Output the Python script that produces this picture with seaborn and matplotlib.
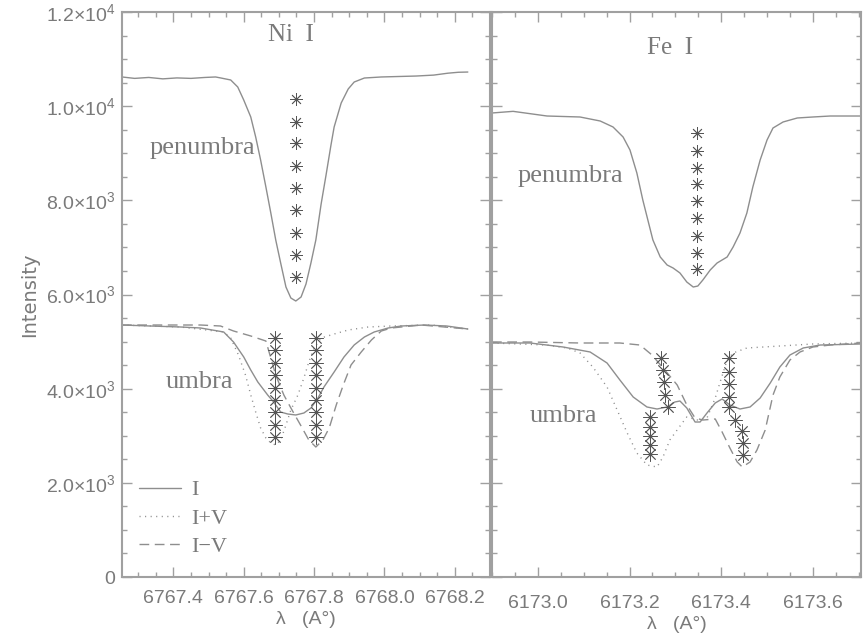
import numpy as np
import pandas as pd
import matplotlib
matplotlib.use("Agg")
import matplotlib.pyplot as plt
from matplotlib.ticker import FixedLocator, MultipleLocator
import seaborn as sns

# ---------------- data ----------------
# Ni I 6767.8  -- penumbra intensity profile
ni_pen_lam = [6767.254, 6767.290, 6767.330, 6767.370, 6767.410, 6767.450, 6767.490, 6767.520,
              6767.534, 6767.563, 6767.583, 6767.600, 6767.620, 6767.634, 6767.648, 6767.663,
              6767.677, 6767.691, 6767.705, 6767.720, 6767.734, 6767.748, 6767.763, 6767.777,
              6767.791, 6767.805, 6767.820, 6767.834, 6767.848, 6767.857, 6767.877, 6767.897,
              6767.914, 6767.943, 6767.991, 6768.040, 6768.090, 6768.140, 6768.180, 6768.210,
              6768.237]
ni_pen_I = [10620, 10590, 10610, 10580, 10600, 10590, 10610, 10620,
            10600, 10556, 10407, 10131, 9770, 9345, 8857, 8283,
            7731, 7158, 6669, 6159, 5925, 5862, 5947, 6223,
            6669, 7158, 7922, 8538, 9175, 9558, 10067, 10365,
            10513, 10598, 10620, 10630, 10640, 10660, 10700, 10720,
            10725]
ni_pen_bis_lam = [6767.748] * 9
ni_pen_bis_I = [10152, 9664, 9218, 8729, 8262, 7795, 7306, 6839, 6372]

# Ni I -- umbra: I, I+V, I-V
ni_umb_lam = [6767.254, 6767.334, 6767.420, 6767.477, 6767.543, 6767.571, 6767.600, 6767.620,
              6767.640, 6767.668, 6767.685, 6767.705, 6767.725, 6767.748, 6767.771, 6767.791,
              6767.811, 6767.828, 6767.857, 6767.885, 6767.914, 6767.943, 6767.971, 6768.011,
              6768.048, 6768.114, 6768.177, 6768.237]
ni_umb_I = [5352, 5331, 5310, 5289, 5204, 4991, 4673, 4396,
            4142, 3866, 3717, 3504, 3462, 3441, 3483, 3589,
            3802, 4035, 4354, 4673, 4928, 5097, 5204, 5289,
            5331, 5352, 5331, 5267]
ni_umb_pV_lam = [6767.254, 6767.420, 6767.543, 6767.563, 6767.585, 6767.605, 6767.620, 6767.634,
                 6767.648, 6767.663, 6767.677, 6767.691, 6767.705, 6767.720, 6767.734, 6767.754,
                 6767.771, 6767.785, 6767.800, 6767.820, 6767.857, 6767.897, 6767.954, 6768.020,
                 6768.134, 6768.237]
ni_umb_pV = [5352, 5310, 5204, 5076, 4715, 4290, 3866, 3504,
             3165, 2952, 2846, 2803, 2910, 3228, 3547, 3866,
             4227, 4566, 4864, 5076, 5161, 5246, 5310, 5331,
             5352, 5267]
ni_umb_mV_lam = [6767.254, 6767.477, 6767.534, 6767.571, 6767.620, 6767.663, 6767.691, 6767.714,
                 6767.734, 6767.763, 6767.785, 6767.805, 6767.825, 6767.843, 6767.863, 6767.883,
                 6767.905, 6767.934, 6767.963, 6767.991, 6768.020, 6768.105, 6768.237]
ni_umb_mV = [5352, 5352, 5331, 5225, 5119, 5012, 4290, 3866,
             3590, 3207, 2910, 2761, 2910, 3165, 3653, 4078,
             4503, 4779, 5034, 5225, 5289, 5352, 5267]
ni_umb_bis1_lam = [6767.689] * 9
ni_umb_bis2_lam = [6767.806] * 9
ni_umb_bis_I = [5076, 4813, 4550, 4287, 4024, 3762, 3499, 3236, 2973]

# Fe I 6173.3 -- penumbra
fe_pen_lam = [6172.900, 6172.946, 6173.020, 6173.092, 6173.136, 6173.164, 6173.186, 6173.201,
              6173.216, 6173.229, 6173.240, 6173.251, 6173.267, 6173.282, 6173.295, 6173.310,
              6173.325, 6173.339, 6173.349, 6173.360, 6173.376, 6173.391, 6173.413, 6173.426,
              6173.441, 6173.456, 6173.469, 6173.485, 6173.500, 6173.513, 6173.535, 6173.566,
              6173.600, 6173.638, 6173.703]
fe_pen_I = [9855, 9890, 9791, 9770, 9685, 9558, 9345, 9069,
            8581, 8007, 7582, 7158, 6797, 6627, 6563, 6457,
            6265, 6159, 6180, 6308, 6520, 6669, 6797, 7009,
            7306, 7731, 8283, 8857, 9281, 9536, 9664, 9749,
            9770, 9791, 9791]
fe_pen_bis_lam = [6173.347] * 9
fe_pen_bis_I = [9430, 9048, 8687, 8347, 7986, 7625, 7242, 6881, 6541]

# Fe I -- umbra: I, I+V, I-V
fe_umb_lam = [6172.900, 6172.983, 6173.055, 6173.114, 6173.151, 6173.179, 6173.208, 6173.238,
              6173.260, 6173.282, 6173.299, 6173.310, 6173.325, 6173.343, 6173.354, 6173.369,
              6173.387, 6173.402, 6173.419, 6173.441, 6173.463, 6173.485, 6173.507, 6173.528,
              6173.550, 6173.579, 6173.616, 6173.705]
fe_umb_I = [4970, 4970, 4885, 4779, 4545, 4184, 3823, 3611,
            3568, 3611, 3717, 3738, 3589, 3292, 3292, 3483,
            3696, 3781, 3653, 3568, 3611, 3802, 4120, 4460,
            4715, 4864, 4927, 4949]
fe_umb_pV_lam = [6172.900, 6173.020, 6173.064, 6173.092, 6173.120, 6173.151, 6173.173, 6173.195,
                 6173.216, 6173.238, 6173.260, 6173.273, 6173.288, 6173.315, 6173.325, 6173.349,
                 6173.369, 6173.387, 6173.397, 6173.413, 6173.426, 6173.456, 6173.528, 6173.600,
                 6173.705]
fe_umb_pV = [4970, 4927, 4864, 4758, 4460, 4035, 3547, 3058,
             2634, 2379, 2336, 2549, 2910, 3271, 3398, 3334,
             3377, 3802, 4120, 4609, 4758, 4864, 4906, 4949,
             4970]
fe_umb_mV_lam = [6172.900, 6172.983, 6173.092, 6173.179, 6173.223, 6173.249, 6173.277, 6173.304,
                 6173.325, 6173.343, 6173.360, 6173.387, 6173.402, 6173.419, 6173.435, 6173.446,
                 6173.463, 6173.478, 6173.496, 6173.513, 6173.528, 6173.550, 6173.572, 6173.600,
                 6173.638, 6173.705]
fe_umb_mV = [4991, 4991, 4970, 4970, 4927, 4715, 4396, 4078,
             3653, 3377, 3334, 3356, 3080, 2740, 2443, 2336,
             2443, 2697, 3122, 3865, 4248, 4609, 4779, 4885,
             4927, 4970]
fe_umb_bisA_lam = [6173.269, 6173.273, 6173.275, 6173.277, 6173.284]
fe_umb_bisA_I = [4651, 4396, 4142, 3865, 3611]
fe_umb_bisB_lam = [6173.245] * 5
fe_umb_bisB_I = [3398, 3186, 2995, 2804, 2612]
fe_umb_bisC_lam = [6173.417, 6173.417, 6173.417, 6173.417, 6173.417, 6173.430]
fe_umb_bisC_I = [4651, 4354, 4099, 3823, 3611, 3334]
fe_umb_bisD_lam = [6173.446, 6173.448, 6173.448]
fe_umb_bisD_I = [3101, 2846, 2591]

# axes / tick labels
y_ticks = [0, 2000, 4000, 6000, 8000, 10000, 12000]
y_ticklabels = ['0', r'2.0$\times$10$^3$', r'4.0$\times$10$^3$', r'6.0$\times$10$^3$',
                r'8.0$\times$10$^3$', r'1.0$\times$10$^4$', r'1.2$\times$10$^4$']
ni_xticks = [6767.4, 6767.6, 6767.8, 6768.0, 6768.2]
ni_xticklabels = ['6767.4', '6767.6', '6767.8', '6768.0', '6768.2']
fe_xticks = [6173.0, 6173.2, 6173.4, 6173.6]
fe_xticklabels = ['6173.0', '6173.2', '6173.4', '6173.6']
legend_labels = ['I', 'I+V', 'I\u2212V']

# ---------------- style ----------------
sns.set_style("ticks")
plt.rcParams['font.family'] = ['Liberation Sans', 'DejaVu Sans']
plt.rcParams['mathtext.fontset'] = 'custom'
plt.rcParams['mathtext.rm'] = 'Liberation Sans'
plt.rcParams['mathtext.it'] = 'Liberation Sans:italic'
plt.rcParams['mathtext.bf'] = 'Liberation Sans:bold'

LINE = '#8e8e8e'
TXT = '#7a7a7a'
SPINE = '#a0a0a0'
MARK = '#555555'
SERIF = ['Liberation Serif', 'DejaVu Serif']

fig = plt.figure(figsize=(8.65, 6.41), dpi=100)
fig.patch.set_facecolor('white')
ax1 = fig.add_axes([0.14104, 0.09984, 0.42543, 0.88144])
ax2 = fig.add_axes([0.56879, 0.09984, 0.42659, 0.88144])

DOT = (0, (0.8, 3.2))
DASH = (0, (7, 4))
AST = (8, 2, 0)


def curve(ax, x, y, ls='-', label=None):
    sns.lineplot(x=x, y=y, ax=ax, color=LINE, lw=1.0, linestyle=ls,
                 estimator=None, sort=False, label=label, legend=False)
    return ax.lines[-1]


def stars(ax, x, y, s=75):
    sns.scatterplot(x=x, y=y, ax=ax, marker=AST, s=s, color=MARK,
                    linewidth=0.6, legend=False, zorder=5)


# left panel: Ni I
curve(ax1, ni_pen_lam, ni_pen_I)
h1 = curve(ax1, ni_umb_lam, ni_umb_I)
h2 = curve(ax1, ni_umb_pV_lam, ni_umb_pV, DOT)
h3 = curve(ax1, ni_umb_mV_lam, ni_umb_mV, DASH)
stars(ax1, ni_pen_bis_lam, ni_pen_bis_I)
stars(ax1, ni_umb_bis1_lam, ni_umb_bis_I, s=95)
stars(ax1, ni_umb_bis2_lam, ni_umb_bis_I, s=95)

# right panel: Fe I
curve(ax2, fe_pen_lam, fe_pen_I)
curve(ax2, fe_umb_lam, fe_umb_I)
curve(ax2, fe_umb_pV_lam, fe_umb_pV, DOT)
curve(ax2, fe_umb_mV_lam, fe_umb_mV, DASH)
stars(ax2, fe_pen_bis_lam, fe_pen_bis_I)
stars(ax2, fe_umb_bisA_lam, fe_umb_bisA_I, s=95)
stars(ax2, fe_umb_bisB_lam, fe_umb_bisB_I, s=95)
stars(ax2, fe_umb_bisC_lam, fe_umb_bisC_I, s=95)
stars(ax2, fe_umb_bisD_lam, fe_umb_bisD_I, s=95)

for ax in (ax1, ax2):
    ax.set_ylim(0, 12000)
    ax.yaxis.set_major_locator(FixedLocator(y_ticks))
    ax.yaxis.set_minor_locator(MultipleLocator(500))
    ax.xaxis.set_minor_locator(MultipleLocator(0.05))
    ax.tick_params(which='both', direction='in', top=True, right=True,
                   color=SPINE, width=1.0, labelcolor=TXT, labelsize=14)
    ax.tick_params(which='major', length=7)
    ax.tick_params(which='minor', length=3.5)
    for sp in ax.spines.values():
        sp.set_color(SPINE)
        sp.set_linewidth(1.5)
    ax.set_facecolor('white')

ax1.set_xlim(6767.254, 6768.30)
ax1.xaxis.set_major_locator(FixedLocator(ni_xticks))
ax1.set_xticklabels(ni_xticklabels)
ax1.set_yticklabels(y_ticklabels)
ax1.tick_params(axis='x', pad=9)
ax1.tick_params(axis='y', pad=5)

ax2.set_xlim(6172.9, 6173.705)
ax2.xaxis.set_major_locator(FixedLocator(fe_xticks))
ax2.set_xticklabels(fe_xticklabels)
ax2.set_yticklabels([])
ax2.tick_params(axis='x', pad=13)

ax1.set_xlabel('\u03bb   (A\u00b0)', fontsize=14, color=TXT, labelpad=3)
ax2.set_xlabel('\u03bb   (A\u00b0)', fontsize=14, color=TXT, labelpad=3)
ax1.set_ylabel('Intensity', fontsize=14, color=TXT, family=['DejaVu Sans'], labelpad=5)

ax1.text(6767.734, 11520, 'Ni  I', family=SERIF, fontsize=18, color=TXT, ha='center', va='center')
ax1.text(6767.483, 9112, 'penumbra', family=SERIF, fontsize=19, color=TXT, ha='center', va='center')
ax1.text(6767.474, 4142, 'umbra', family=SERIF, fontsize=19, color=TXT, ha='center', va='center')
ax2.text(6173.288, 11230, 'Fe  I', family=SERIF, fontsize=18, color=TXT, ha='center', va='center')
ax2.text(6173.070, 8517, 'penumbra', family=SERIF, fontsize=19, color=TXT, ha='center', va='center')
ax2.text(6173.055, 3420, 'umbra', family=SERIF, fontsize=19, color=TXT, ha='center', va='center')

leg = ax1.legend([h1, h2, h3], legend_labels, loc='upper left',
                 bbox_to_anchor=(0.045, 0.172), frameon=False,
                 prop={'family': SERIF, 'size': 16}, handlelength=1.9,
                 handletextpad=0.45, labelspacing=0.35, borderpad=0, borderaxespad=0)
for t in leg.get_texts():
    t.set_color(TXT)

fig.savefig('out.png', dpi=100, facecolor='white')
